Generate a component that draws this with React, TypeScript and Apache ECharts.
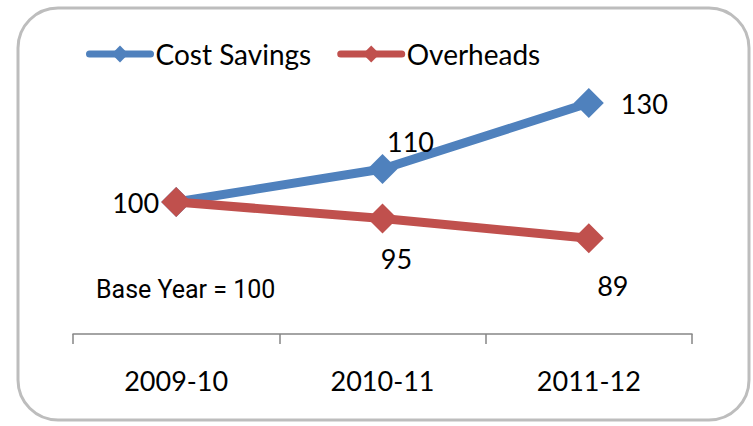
import React, { useEffect, useRef } from "react";
import * as echarts from "echarts";

const categories = ["2009-10", "2010-11", "2011-12"];
const costSavings = [100, 110, 130];
const overheads = [100, 95, 89];
const seriesNames = ["Cost Savings", "Overheads"];
const noteText = "Base Year = ";
const noteValue = "100";

export default function App() {
  const ref = useRef<HTMLDivElement>(null);
  useEffect(() => {
    if (!ref.current) return;
    const chart = echarts.init(ref.current, null, { renderer: "svg" });
    const font = "Lato";
    const lblBase = { show: true, fontSize: 27, fontFamily: font, color: "#000" };
    chart.setOption({
      animation: false,
      backgroundColor: "#fff",
      legend: {
        left: 81,
        top: 35,
        itemWidth: 61,
        itemHeight: 21,
        itemGap: 26,
        lineStyle: { width: 7, cap: "round" },
        textStyle: { fontSize: 28, fontFamily: font, color: "#000" },
        data: seriesNames,
      },
      grid: { left: 73, right: 61, top: 70, bottom: 92 },
      xAxis: {
        type: "category",
        data: categories,
        boundaryGap: true,
        axisLine: { lineStyle: { color: "#868686", width: 1.5 } },
        axisTick: { show: true, length: 10, lineStyle: { color: "#868686", width: 1.5 } },
        axisLabel: { fontSize: 27, fontFamily: font, color: "#000", margin: 33 },
      },
      yAxis: {
        type: "value",
        min: 60,
        max: 140,
        show: false,
        splitLine: { show: false },
      },
      graphic: [
        {
          type: "rect",
          shape: { x: 18, y: 8, width: 731, height: 412, r: 40 },
          style: { fill: "none", stroke: "#bdbdbd", lineWidth: 3 },
          silent: true,
        },
        {
          type: "text",
          x: 96,
          y: 289,
          style: {
            text: "{a|" + noteText + "}{b|" + noteValue + "}",
            verticalAlign: "middle",
            rich: {
              a: { fontSize: 25, fontFamily: "Roboto", color: "#3a4252" },
              b: { fontSize: 25, fontFamily: "Roboto", color: "#8f9bab" },
            },
          },
        },
      ],
      series: [
        {
          name: seriesNames[0],
          type: "line",
          data: costSavings.map((v, i) => ({
            value: v,
            label:
              i === 0
                ? { ...lblBase, position: "left", distance: 2 }
                : i === 1
                ? { ...lblBase, position: "top", distance: -1, offset: [28, 0] }
                : { ...lblBase, position: "right", distance: 17 },
          })),
          symbol: "diamond",
          symbolSize: 30,
          itemStyle: { color: "#4f81bd" },
          lineStyle: { color: "#4f81bd", width: 9 },
          z: 2,
        },
        {
          name: seriesNames[1],
          type: "line",
          data: overheads.map((v, i) => ({
            value: v,
            label:
              i === 0
                ? { show: false }
                : i === 1
                ? { ...lblBase, position: "bottom", distance: 11, offset: [14, 0] }
                : { ...lblBase, position: "bottom", distance: 19, offset: [24, 0] },
          })),
          symbol: "diamond",
          symbolSize: 30,
          itemStyle: { color: "#c0504d" },
          lineStyle: { color: "#c0504d", width: 9 },
          z: 3,
        },
      ],
    });
    return () => chart.dispose();
  }, []);
  return (
    <div
      ref={ref}
      style={{ position: "absolute", left: 0, top: 0, width: 753, height: 426 }}
    />
  );
}
